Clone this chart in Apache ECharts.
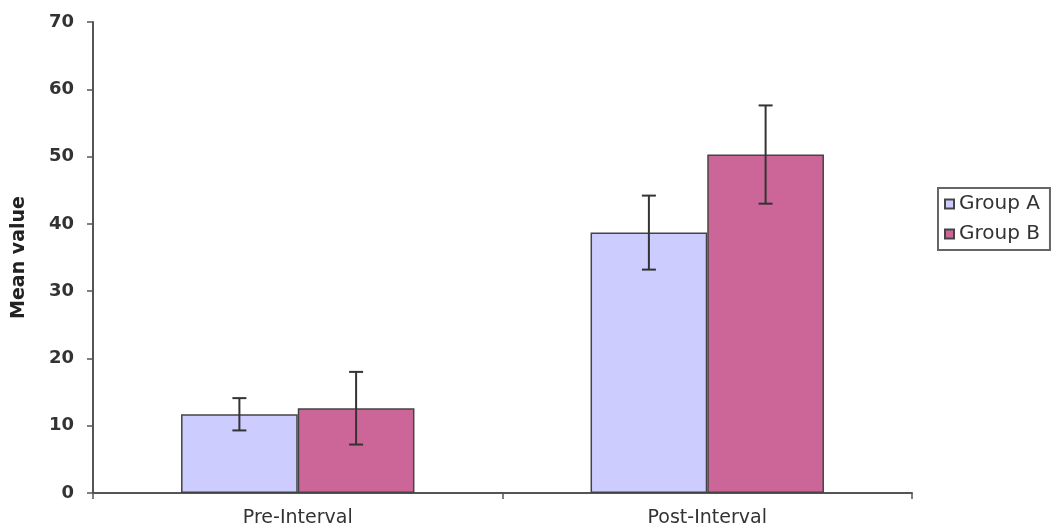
<!DOCTYPE html>
<html>
<head>
<meta charset="utf-8">
<script src="https://cdn.jsdelivr.net/npm/echarts@6/dist/echarts.min.js"></script>
<style>
  html, body { margin: 0; padding: 0; background: #fff; }
  #chart { width: 1052px; height: 529px; }
</style>
</head>
<body>
<div id="chart"></div>
<script>
const categories = ["Pre-Interval", "Post-Interval"];
const seriesNames = ["Group A", "Group B"];
const groupA = [11.7, 38.7];
const groupB = [12.6, 50.3];
const errA = [2.4, 5.5];
const errB = [5.4, 7.3];
const yTicks = { min: 0, max: 70, interval: 10 };

const colors = ["#ccccff", "#cc6699"];
const catGap = 0.43;

const chart = echarts.init(document.getElementById("chart"), null, { renderer: "canvas" });

// error bar for one series; side -1 = left bar of the pair, +1 = right bar
function errorSeries(values, errs, side) {
  return {
    type: "custom",
    silent: true,
    z: 10,
    data: values.map((v, i) => [i, v - errs[i], v + errs[i]]),
    renderItem: (params, api) => {
      const band = api.size([1, 0])[0];
      const barW = (band * (1 - catGap)) / 2;
      const lo = api.coord([api.value(0), api.value(1)]);
      const hi = api.coord([api.value(0), api.value(2)]);
      const x = lo[0] + side * barW / 2;
      const cap = 7;
      const style = { stroke: "#333", lineWidth: 2 };
      return {
        type: "group",
        children: [
          { type: "line", shape: { x1: x, y1: hi[1], x2: x, y2: lo[1] }, style },
          { type: "line", shape: { x1: x - cap, y1: hi[1], x2: x + cap, y2: hi[1] }, style },
          { type: "line", shape: { x1: x - cap, y1: lo[1], x2: x + cap, y2: lo[1] }, style },
        ],
      };
    },
  };
}

chart.setOption({
  animation: false,
  backgroundColor: "#fff",
  grid: { left: 93, right: 140, top: 22, bottom: 36, outerBoundsMode: "none" },
  legend: {
    data: seriesNames,
    orient: "vertical",
    left: 938,
    top: 188,
    itemWidth: 9,
    itemHeight: 9,
    itemGap: 10,
    padding: [6, 10, 6, 6],
    borderColor: "#666",
    borderWidth: 2,
    icon: "rect",
    textStyle: { fontFamily: "DejaVu Sans", fontSize: 20, color: "#333" },
  },
  xAxis: {
    type: "category",
    data: categories,
    axisLine: { lineStyle: { color: "#555", width: 2 } },
    axisTick: { show: true, length: 6, lineStyle: { color: "#555", width: 1.5 } },
    axisLabel: { fontFamily: "DejaVu Sans", fontSize: 19, color: "#333", margin: 16 },
  },
  yAxis: {
    type: "value",
    min: yTicks.min,
    max: yTicks.max,
    interval: yTicks.interval,
    name: "Mean value",
    nameLocation: "middle",
    nameGap: 64,
    nameTextStyle: { fontFamily: "DejaVu Sans", fontWeight: "bold", fontSize: 19, color: "#222" },
    axisLine: { show: true, lineStyle: { color: "#555", width: 2 } },
    axisTick: { show: true, length: 6, lineStyle: { color: "#555", width: 1.5 } },
    axisLabel: { fontFamily: "DejaVu Sans", fontWeight: "bold", fontSize: 18, color: "#333", margin: 19 },
    splitLine: { show: false },
  },
  series: [
    {
      name: seriesNames[0],
      type: "bar",
      data: groupA,
      barGap: "0%",
      barCategoryGap: catGap * 100 + "%",
      itemStyle: { color: colors[0], borderColor: "#444", borderWidth: 1.5 },
    },
    {
      name: seriesNames[1],
      type: "bar",
      data: groupB,
      itemStyle: { color: colors[1], borderColor: "#444", borderWidth: 1.5 },
    },
    errorSeries(groupA, errA, -1),
    errorSeries(groupB, errB, 1),
  ],
});
</script>
</body>
</html>
